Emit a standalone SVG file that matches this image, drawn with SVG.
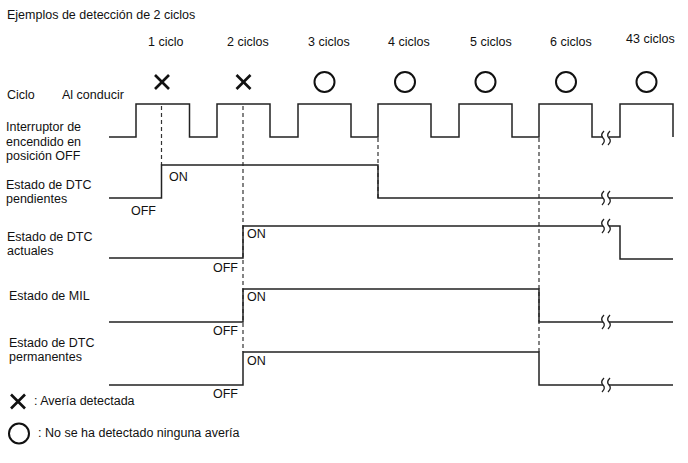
<svg xmlns="http://www.w3.org/2000/svg" width="688" height="463" viewBox="0 0 688 463">
<style>
text{font-family:"Liberation Sans",Arial,sans-serif;font-size:12.5px;fill:#111}
.sig{fill:none;stroke:#222;stroke-width:1.5}
.dash{fill:none;stroke:#333;stroke-width:1.2;stroke-dasharray:4 3}
.brk{fill:none;stroke:#222;stroke-width:1.3}
.cross{stroke:#111;stroke-width:2.6;stroke-linecap:butt}
.circ{fill:none;stroke:#111;stroke-width:2}
</style>
<defs>
<path id="brk" class="brk" d="M1,-7 Q-3,-3 0,0 Q3,3 -1,7"/>
<g id="xm"><line class="cross" x1="-7" y1="-7" x2="7" y2="7"/><line class="cross" x1="7" y1="-7" x2="-7" y2="7"/></g>
</defs>
<rect width="688" height="463" fill="#fff"/>
<text x="7" y="19">Ejemplos de detección de 2 ciclos</text>
<g id="cycle-labels">
<text x="148" y="46">1 ciclo</text>
<text x="227" y="46">2 ciclos</text>
<text x="308" y="46">3 ciclos</text>
<text x="388" y="46">4 ciclos</text>
<text x="470" y="46">5 ciclos</text>
<text x="550" y="46">6 ciclos</text>
<text x="626" y="43">43 ciclos</text>
</g>
<g id="symbols">
<use href="#xm" x="162" y="82"/>
<use href="#xm" x="243.5" y="82"/>
<circle class="circ" cx="324.5" cy="82" r="10"/>
<circle class="circ" cx="405" cy="82" r="10"/>
<circle class="circ" cx="485.5" cy="82" r="10"/>
<circle class="circ" cx="566" cy="82" r="10"/>
<circle class="circ" cx="646.5" cy="82" r="10"/>
</g>
<g id="row-labels">
<text x="7" y="99">Ciclo</text>
<text x="62" y="99">Al conducir</text>
<text x="6" y="131">Interruptor de</text>
<text x="6" y="146">encendido en</text>
<text x="6" y="160">posición OFF</text>
<text x="6" y="189">Estado de DTC</text>
<text x="6" y="203">pendientes</text>
<text x="7" y="241">Estado de DTC</text>
<text x="7" y="255">actuales</text>
<text x="9" y="300">Estado de MIL</text>
<text x="9" y="347">Estado de DTC</text>
<text x="9" y="361">permanentes</text>
</g>
<g id="connectors">
<path class="dash" d="M161.5,106V165"/>
<path class="dash" d="M243,106V352"/>
<path class="dash" d="M378,138V198"/>
<path class="dash" d="M539,138V352"/>
</g>
<g id="ignition">
<path class="sig" d="M109,137H136V104H189.5V137H217V104H270V137H298V104H351V137H378V104H431V137H459V104H512V137H539V104H592V137H603"/>
<path class="sig" d="M609,137H620V104H673V137"/>
<use href="#brk" x="603" y="138"/><use href="#brk" x="609" y="138"/>
</g>
<g id="pending">
<path class="sig" d="M109,198H161.5V165H378V198H603"/>
<path class="sig" d="M609,198H673"/>
<use href="#brk" x="603" y="198"/><use href="#brk" x="609" y="198"/>
<text x="169" y="181">ON</text>
<text x="131" y="215">OFF</text>
</g>
<g id="current">
<path class="sig" d="M109,258H243V226H603"/>
<path class="sig" d="M609,226H620V259H673"/>
<use href="#brk" x="603" y="226"/><use href="#brk" x="609" y="226"/>
<text x="247" y="238">ON</text>
<text x="213" y="272">OFF</text>
</g>
<g id="mil">
<path class="sig" d="M109,322H243V289H539V322H603"/>
<path class="sig" d="M609,322H673"/>
<use href="#brk" x="603" y="322"/><use href="#brk" x="609" y="322"/>
<text x="247" y="301">ON</text>
<text x="213" y="335">OFF</text>
</g>
<g id="permanent">
<path class="sig" d="M109,385H243V352H539V385H603"/>
<path class="sig" d="M609,385H673"/>
<use href="#brk" x="603" y="385"/><use href="#brk" x="609" y="385"/>
<text x="247" y="365">ON</text>
<text x="213" y="398">OFF</text>
</g>
<g id="legend">
<use href="#xm" x="18" y="401.5"/>
<text x="34" y="405">: Avería detectada</text>
<circle class="circ" cx="19" cy="433.5" r="10"/>
<text x="38" y="437">: No se ha detectado ninguna avería</text>
</g>
</svg>
